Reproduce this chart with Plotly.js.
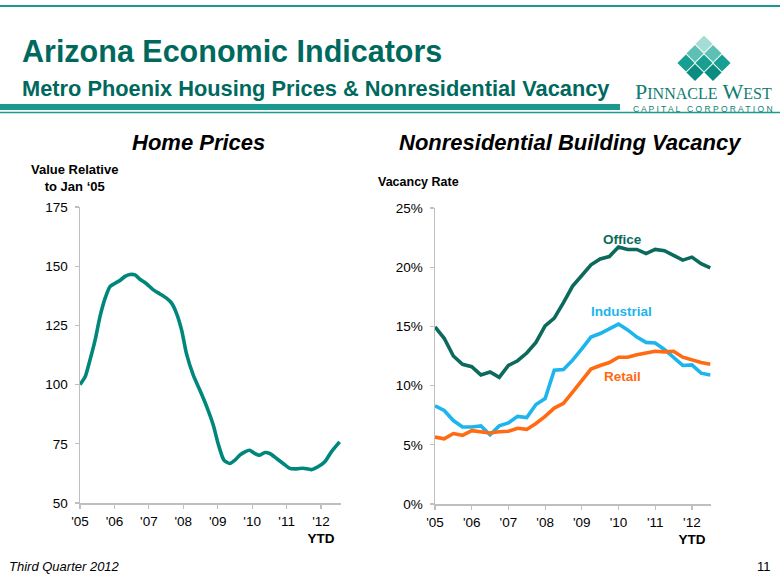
<!DOCTYPE html>
<html>
<head>
<meta charset="utf-8">
<script src="https://cdn.plot.ly/plotly-3.0.1.min.js"></script>
<style>html,body{margin:0;padding:0;background:#fff;}#chart{width:780px;height:585px;}</style>
</head>
<body>
<div id="chart"></div>
<script>
// ---- Data ----
var yearTicks = [2005, 2006, 2007, 2008, 2009, 2010, 2011, 2012];
var yearLabels = ["'05", "'06", "'07", "'08", "'09", "'10", "'11", "'12<br><b>YTD</b>"];

var homeX = [2005.0, 2005.15, 2005.29, 2005.44, 2005.58, 2005.73, 2005.87, 2006.02, 2006.16, 2006.31, 2006.45, 2006.6, 2006.74, 2006.93, 2007.13, 2007.32, 2007.51, 2007.66, 2007.8, 2007.95, 2008.09, 2008.29, 2008.48, 2008.68, 2008.87, 2009.01, 2009.18, 2009.35, 2009.5, 2009.64, 2009.79, 2009.93, 2010.08, 2010.22, 2010.37, 2010.51, 2010.71, 2010.9, 2011.09, 2011.29, 2011.48, 2011.72, 2011.91, 2012.11, 2012.3, 2012.54];
var homeValue = [100, 103.3, 110.4, 118.9, 128.7, 136.5, 141.4, 142.8, 144, 145.7, 146.5, 146.3, 144.5, 142.6, 140, 138.3, 136.5, 134.4, 130.2, 123.1, 113.2, 104, 97.7, 90.7, 82.9, 75.1, 68.1, 66.7, 68.1, 70.2, 71.6, 72.3, 70.9, 70.2, 71.3, 70.9, 68.8, 66.7, 64.6, 64.4, 64.7, 64.1, 65.3, 67.4, 71.6, 75.8];

var quarterX = [2005.0, 2005.25, 2005.5, 2005.75, 2006.0, 2006.25, 2006.5, 2006.75, 2007.0, 2007.25, 2007.5, 2007.75, 2008.0, 2008.25, 2008.5, 2008.75, 2009.0, 2009.25, 2009.5, 2009.75, 2010.0, 2010.25, 2010.5, 2010.75, 2011.0, 2011.25, 2011.5, 2011.75, 2012.0, 2012.25, 2012.5];
var officeVacancy = [14.95, 14.0, 12.5, 11.8, 11.6, 10.9, 11.15, 10.7, 11.7, 12.1, 12.75, 13.65, 15.05, 15.7, 17.0, 18.4, 19.3, 20.2, 20.7, 20.9, 21.7, 21.5, 21.5, 21.15, 21.5, 21.4, 21.0, 20.6, 20.85, 20.3, 19.95];
var industrialVacancy = [8.3, 7.9, 7.05, 6.5, 6.5, 6.6, 5.85, 6.6, 6.85, 7.4, 7.3, 8.4, 8.9, 11.3, 11.35, 12.15, 13.1, 14.1, 14.4, 14.8, 15.2, 14.7, 14.1, 13.65, 13.6, 13.05, 12.4, 11.7, 11.75, 11.05, 10.9];
var retailVacancy = [5.65, 5.5, 5.95, 5.8, 6.2, 6.1, 6.0, 6.1, 6.15, 6.4, 6.3, 6.8, 7.4, 8.1, 8.5, 9.45, 10.45, 11.4, 11.7, 11.95, 12.4, 12.4, 12.6, 12.75, 12.9, 12.85, 12.9, 12.4, 12.15, 11.95, 11.8];
var seriesNames = ["Office", "Industrial", "Retail"];

// ---- Helpers ----
var W = 780, H = 585;
function px(x) { return x / W; }
function py(y) { return 1 - y / H; }
var SANS = "Liberation Sans, Arial, Helvetica, sans-serif";
var TEAL_DARK = "#00695E";
var AXIS_GREY = "#BFBFBF";

var traces = [
  {x: homeX, y: homeValue, xaxis: "x", yaxis: "y", mode: "lines",
   line: {color: "#00877C", width: 3.6, shape: "spline", smoothing: 0.6}, hoverinfo: "skip"},
  {x: quarterX, y: officeVacancy, xaxis: "x2", yaxis: "y2", mode: "lines", name: seriesNames[0],
   line: {color: "#0B6A5C", width: 3.6}},
  {x: quarterX, y: industrialVacancy, xaxis: "x2", yaxis: "y2", mode: "lines", name: seriesNames[1],
   line: {color: "#1CB5EE", width: 3.6}},
  {x: quarterX, y: retailVacancy, xaxis: "x2", yaxis: "y2", mode: "lines", name: seriesNames[2],
   line: {color: "#FF6A13", width: 3.6}}
];

function xAxis(domain, range, anchor) {
  return {domain: domain, range: range, anchor: anchor, tickmode: "array",
    tickvals: yearTicks, ticktext: yearLabels, showgrid: false, zeroline: false,
    showline: true, linecolor: AXIS_GREY, linewidth: 1.5, ticks: "outside",
    ticklen: 4, tickcolor: AXIS_GREY, tickwidth: 1.2, ticklabelstandoff: 1,
    tickfont: {family: SANS, size: 13.5, color: "#000"}, fixedrange: true};
}
function yAxis(domain, range, anchor, dtick, suffix) {
  return {domain: domain, range: range, anchor: anchor, dtick: dtick, tick0: 0,
    ticksuffix: suffix, showgrid: false, zeroline: false,
    showline: true, linecolor: AXIS_GREY, linewidth: 1.5, ticks: "outside",
    ticklen: 4, tickcolor: AXIS_GREY, tickwidth: 1.2, ticklabelstandoff: 4,
    tickfont: {family: SANS, size: 13.5, color: "#000"}, fixedrange: true};
}

var shapes = [
  {type: "line", xref: "paper", yref: "paper", x0: 0, x1: 1, y0: py(6), y1: py(6), line: {color: "#1A9A8E", width: 2}},
  {type: "rect", xref: "paper", yref: "paper", x0: 0, x1: px(620), y0: py(110), y1: py(104), fillcolor: "#1A9A8E", line: {width: 0}},
  {type: "line", xref: "paper", yref: "paper", x0: 0, x1: 1, y0: py(112.5), y1: py(112.5), line: {color: "#1A9A8E", width: 1.5}}
];
// Logo diamonds
function diamond(cx, cy, r, color) {
  var p = "M " + px(cx) + "," + py(cy - r) + " L " + px(cx + r) + "," + py(cy) +
          " L " + px(cx) + "," + py(cy + r) + " L " + px(cx - r) + "," + py(cy) + " Z";
  return {type: "path", xref: "paper", yref: "paper", path: p, fillcolor: color, line: {width: 0}};
}
var dr = 8.6;
shapes.push(diamond(704, 44, dr, "#A6DCD6"));
shapes.push(diamond(695, 53.5, dr, "#5EC0B5"));
shapes.push(diamond(713, 53.5, dr, "#5EC0B5"));
shapes.push(diamond(686, 63, dr, "#17A092"));
shapes.push(diamond(704, 63, dr, "#17A092"));
shapes.push(diamond(722, 63, dr, "#17A092"));
shapes.push(diamond(695, 72.5, dr, "#0A8D80"));
shapes.push(diamond(713, 72.5, dr, "#0A8D80"));

function ann(text, x, y, opts) {
  var a = {text: text, x: px(x), y: py(y), xref: "paper", yref: "paper", showarrow: false,
    xanchor: "center", yanchor: "middle", font: {family: SANS, size: 13, color: "#000"}};
  for (var k in opts) a[k] = opts[k];
  return a;
}

var annotations = [
  ann("<b>Arizona Economic Indicators</b>", 20, 51, {xanchor: "left", font: {family: SANS, size: 30.5, color: TEAL_DARK}}),
  ann("<b>Metro Phoenix Housing Prices &amp; Nonresidential Vacancy</b>", 20, 88, {xanchor: "left", font: {family: SANS, size: 21.8, color: TEAL_DARK}}),
  ann("P<span style='font-size:16px'>INNACLE</span> W<span style='font-size:16px'>EST</span>", 703, 91, {font: {family: "Liberation Serif, DejaVu Serif, serif", size: 22, color: "#0E7D72"}}),
  ann("C A P I T A L   C O R P O R A T I O N", 703, 108.5, {font: {family: SANS, size: 8.5, color: "#0E7D72"}}),
  ann("<b><i>Home Prices</i></b>", 198, 142, {font: {family: SANS, size: 22, color: "#000"}}),
  ann("<b><i>Nonresidential Building Vacancy</i></b>", 570, 142, {font: {family: SANS, size: 22, color: "#000"}}),
  ann("<b>Value Relative<br>to Jan \u201805</b>", 74, 178, {font: {family: SANS, size: 13, color: "#000"}}),
  ann("<b>Vacancy Rate</b>", 376, 182, {xanchor: "left", font: {family: SANS, size: 12.5, color: "#000"}}),
  ann("<b>" + seriesNames[0] + "</b>", 622, 239, {font: {family: SANS, size: 13.5, color: "#0B6A5C"}}),
  ann("<b>" + seriesNames[1] + "</b>", 621, 311, {font: {family: SANS, size: 13.5, color: "#1CB5EE"}}),
  ann("<b>" + seriesNames[2] + "</b>", 622, 376, {font: {family: SANS, size: 13.5, color: "#FF6A13"}}),
  ann("<i>Third Quarter 2012</i>", 7, 566, {xanchor: "left", font: {family: SANS, size: 13, color: "#000"}}),
  ann("11", 773, 566, {xanchor: "right", font: {family: SANS, size: 13, color: "#000"}})
];

var layout = {
  width: W, height: H, margin: {l: 0, r: 0, t: 0, b: 0},
  paper_bgcolor: "#fff", plot_bgcolor: "rgba(0,0,0,0)", showlegend: false,
  xaxis: xAxis([px(80), px(341)], [2005, 2012.58], "y"),
  yaxis: yAxis([py(503), py(207)], [50, 175], "x", 25, ""),
  xaxis2: xAxis([px(435), px(711)], [2005, 2012.52], "y2"),
  yaxis2: yAxis([py(504), py(208)], [0, 25], "x2", 5, "%"),
  shapes: shapes, annotations: annotations
};

Plotly.newPlot("chart", traces, layout, {displayModeBar: false, staticPlot: true});
</script>
</body>
</html>
